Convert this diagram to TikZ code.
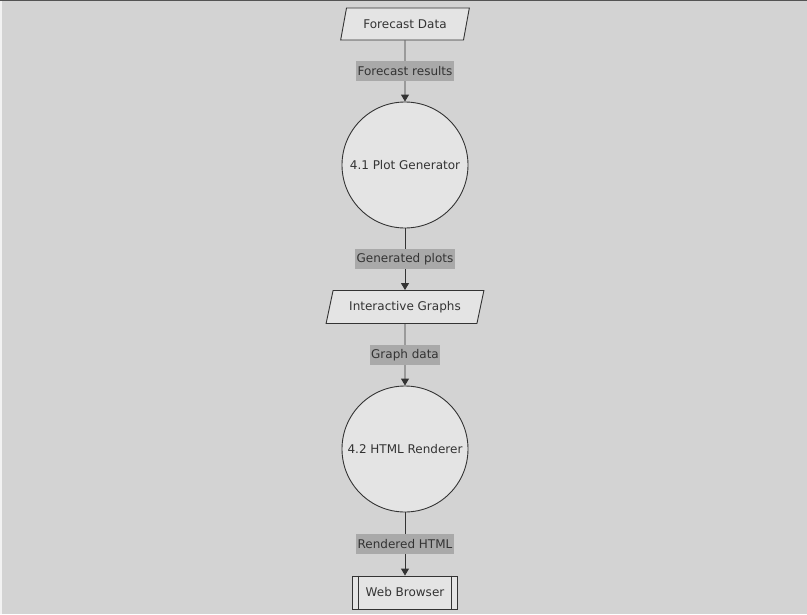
\documentclass[tikz,border=0pt]{standalone}
\usepackage{fontspec}
\setmainfont{DejaVu Sans}
\usetikzlibrary{shapes.geometric,arrows.meta,calc}
\definecolor{canvas}{HTML}{D3D3D3}
\definecolor{nodefill}{HTML}{E4E4E4}
\definecolor{ink}{HTML}{333333}
\definecolor{tagfill}{HTML}{A9A9A9}
\tikzset{
  every node/.style={font=\fontsize{12}{14}\selectfont, text=ink},
  datastore/.style={trapezium, trapezium stretches=true, trapezium left angle=65,
    trapezium right angle=115, draw=ink, fill=nodefill, line width=0.9pt,
    minimum width=129pt, minimum height=32pt, inner sep=0pt},
  process/.style={circle, draw=ink, fill=nodefill, line width=0.9pt,
    minimum size=126pt, inner sep=0pt},
  terminal/.style={rectangle, draw=ink, fill=nodefill, line width=0.9pt,
    minimum width=105pt, minimum height=33pt, inner sep=0pt},
  flow/.style={draw=ink, line width=0.9pt, -{Triangle[length=7pt,width=8pt]}},
  tag/.style={fill=tagfill, inner xsep=1.5pt, inner ysep=0pt, minimum height=20pt}
}
\begin{document}
\begin{tikzpicture}[x=1pt, y=-1pt]
  % canvas
  \fill[canvas] (0,0) rectangle (807,614);
  \fill[white!70!canvas] (0,0) rectangle (2,614);
  \fill[ink!80!canvas] (0,0) rectangle (807,1.2);
  \useasboundingbox (0,0) rectangle (807,614);

  % nodes
  \node[datastore] (fd) at (405,24) {Forecast Data};
  \node[process] (pg) at (405,165) {4.1 Plot Generator};
  \node[datastore, minimum width=158pt, minimum height=33pt] (ig) at (405,307) {Interactive Graphs};
  \node[process] (hr) at (405,449) {4.2 HTML Renderer};
  \node[terminal] (wb) at (405,592.5) {Web Browser};
  \draw[ink, line width=0.9pt] ($(wb.north west)+(6.5,0)$) -- ($(wb.south west)+(6.5,0)$);
  \draw[ink, line width=0.9pt] ($(wb.north east)+(-6.5,0)$) -- ($(wb.south east)+(-6.5,0)$);

  % flows
  \draw[flow] (fd) -- node[tag] {Forecast results} (pg);
  \draw[flow] (pg) -- node[tag] {Generated plots} (ig);
  \draw[flow] (ig) -- node[tag] {Graph data} (hr);
  \draw[flow] (hr) -- node[tag] {Rendered HTML} (wb);
\end{tikzpicture}
\end{document}
